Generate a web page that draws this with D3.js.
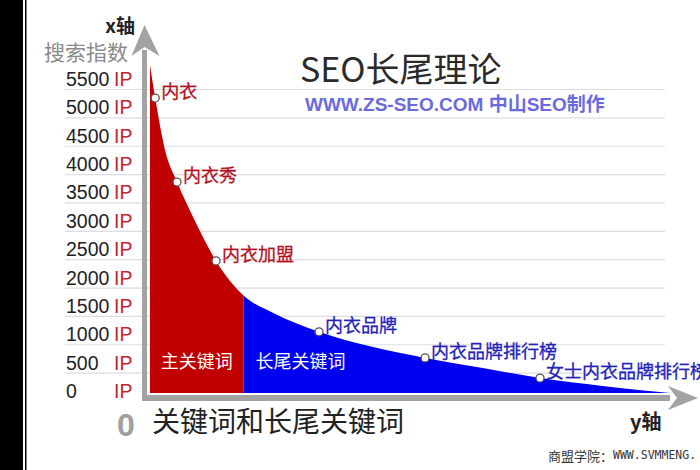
<!DOCTYPE html>
<html><head><meta charset="utf-8">
<script src="https://cdn.jsdelivr.net/npm/d3@7"></script>
<style>
html,body{margin:0;padding:0;background:#fff;}
svg{display:block;}
text{font-family:"Noto Sans CJK SC","Noto Sans",sans-serif;}
</style></head>
<body>
<svg id="c" width="700" height="470"></svg>
<script>
// ---- data ----
const tickValues = [0,500,1000,1500,2000,2500,3000,3500,4000,4500,5000,5500];
const tickLabels = ["0","500","1000","1500","2000","2500","3000","3500","4000","4500","5000","5500"];
const tickUnit = "IP";
const curveX = [0, 1, 2.9, 5.2, 8.3, 12.7, 18, 23.7, 32.5, 42.9, 52.9, 64, 75, 87, 100];
const curveV = [5920, 5340, 4420, 3860, 3240, 2470, 1860, 1550, 1220, 950, 760, 580, 405, 265, 140];
const keywords = ["内衣","内衣秀","内衣加盟","内衣品牌","内衣品牌排行榜","女士内衣品牌排行榜"];
const keywordX = [1, 5.2, 12.7, 32.5, 52.9, 75];
const keywordV = [5340, 3860, 2470, 1220, 760, 405];
const headSplit = 18;
const regionLabels = ["主关键词","长尾关键词"];
const title = "SEO长尾理论";
const subtitle = "WWW.ZS-SEO.COM 中山SEO制作";
const xAxisTitle = "关键词和长尾关键词";
const yAxisTitle = "搜索指数";

const svg = d3.select("#c");
const x = d3.scaleLinear().domain([0,100]).range([150,670]);
const y = d3.scaleLinear().domain([0,5500]).range([401,89]);

// left black strip
svg.append("rect").attr("x",0).attr("y",0).attr("width",23).attr("height",470).attr("fill","#000");
svg.append("rect").attr("x",25).attr("y",0).attr("width",1.5).attr("height",470).attr("fill","#000");

// gridlines
svg.append("g").selectAll("line").data(tickValues.filter(d=>d>0)).join("line")
  .attr("x1",65).attr("x2",665).attr("y1",d=>y(d)+0.5).attr("y2",d=>y(d)+0.5)
  .attr("stroke","#dcdce4").attr("stroke-width",1.2);

// tick labels
const tl = svg.append("g");
tl.selectAll("text.n").data(tickValues).join("text").attr("class","n")
  .attr("x",66).attr("y",d=>y(d)-10).attr("dominant-baseline","central")
  .style("font-family","'Liberation Sans',Arial,sans-serif").attr("font-size",19.5).attr("fill","#222")
  .text((d,i)=>tickLabels[i]);
tl.selectAll("text.u").data(tickValues).join("text").attr("class","u")
  .attr("x",114).attr("y",d=>y(d)-10).attr("dominant-baseline","central")
  .style("font-family","'Liberation Sans',Arial,sans-serif").attr("font-size",19.5).attr("fill","#c0262e")
  .text(tickUnit);

// area
const pts = curveX.map((d,i)=>({x:d,v:curveV[i]}));
const area = d3.area().x(d=>x(d.x)).y0(y(0)-8).y1(d=>y(d.v)).curve(d3.curveMonotoneX);
const defs = svg.append("defs");
defs.append("clipPath").attr("id","cl").append("rect")
  .attr("x",0).attr("y",0).attr("width",x(headSplit)).attr("height",470);
defs.append("clipPath").attr("id","cr").append("rect")
  .attr("x",x(headSplit)).attr("y",0).attr("width",700).attr("height",470);
svg.append("path").datum(pts).attr("d",area).attr("fill","#c00000").attr("clip-path","url(#cl)");
svg.append("path").datum(pts).attr("d",area).attr("fill","#0000f0").attr("clip-path","url(#cr)");

// axes (gray arrows)
const gray = "#a3a3a3";
svg.append("rect").attr("x",x(0)-8).attr("y",50).attr("width",5).attr("height",y(0)-50).attr("fill",gray);
svg.append("rect").attr("x",x(0)-8).attr("y",y(0)-6).attr("width",x(100)-x(0)+8).attr("height",6).attr("fill",gray);
const ax = x(0)-5.5;
svg.append("path").attr("fill",gray)
  .attr("d",`M${ax},25 L${ax+15},56 L${ax},47 L${ax-13},56 Z`);
const ay = y(0)-3;
svg.append("path").attr("fill",gray)
  .attr("d",`M698,${ay} L668,${ay+12} L677,${ay} L668,${ay-12} Z`);

// keyword points
const kg = svg.append("g");
keywords.forEach((k,i)=>{
  const px = x(keywordX[i]), py = y(keywordV[i]);
  const col = keywordX[i] < headSplit ? "#b3121c" : "#2323b8";
  kg.append("circle").attr("cx",px).attr("cy",py).attr("r",4)
    .attr("fill","#fff").attr("stroke","#555").attr("stroke-width",1.3);
  kg.append("text").attr("x",px+6).attr("y",py-8).attr("dominant-baseline","central")
    .attr("font-size",18).attr("fill",col).attr("stroke",col).attr("stroke-width",0.3).text(k);
});

// region labels
svg.append("text").attr("x",(x(0)+x(headSplit))/2).attr("y",360).attr("text-anchor","middle")
  .attr("dominant-baseline","central").attr("font-size",18).attr("fill","#fff").text(regionLabels[0]);
svg.append("text").attr("x",x(headSplit)+57).attr("y",360).attr("text-anchor","middle")
  .attr("dominant-baseline","central").attr("font-size",18).attr("fill","#fff").text(regionLabels[1]);

// titles
svg.append("text").attr("x",300).attr("y",67).attr("dominant-baseline","central")
  .attr("font-size",34).attr("fill","#2a2a2a").text(title);
svg.append("text").attr("x",305).attr("y",104).attr("dominant-baseline","central")
  .style("font-family","'Liberation Sans',Arial,'Noto Sans CJK SC',sans-serif")
  .attr("font-size",19).attr("font-weight","bold").attr("fill","#6a6ade").text(subtitle);

svg.append("text").attr("x",135).attr("y",24).attr("text-anchor","end").attr("dominant-baseline","central")
  .attr("font-size",19).attr("font-weight","bold").attr("fill","#222").text("x轴");
svg.append("text").attr("x",44).attr("y",51).attr("dominant-baseline","central")
  .attr("font-size",21).attr("fill","#8a8a8a").text(yAxisTitle);

svg.append("text").attr("x",126).attr("y",425).attr("text-anchor","middle").attr("dominant-baseline","central")
  .style("font-family","'Liberation Sans',Arial,sans-serif")
  .attr("font-size",32).attr("font-weight","bold").attr("fill","#a0a0a0").text("0");
svg.append("text").attr("x",152).attr("y",420).attr("dominant-baseline","central")
  .attr("font-size",28).attr("fill","#222").text(xAxisTitle);
svg.append("text").attr("x",630).attr("y",420).attr("dominant-baseline","central")
  .attr("font-size",20).attr("font-weight","bold").attr("fill","#222").text("y轴");

// watermark
const wm = svg.append("text").attr("x",548).attr("y",455).attr("dominant-baseline","central").attr("fill","#333");
wm.append("tspan").attr("font-size",13).text("商盟学院：");
wm.append("tspan").style("font-family","'DejaVu Sans Mono',monospace").attr("font-size",11.5).text("WWW.SVMMENG.");
</script>
</body></html>
